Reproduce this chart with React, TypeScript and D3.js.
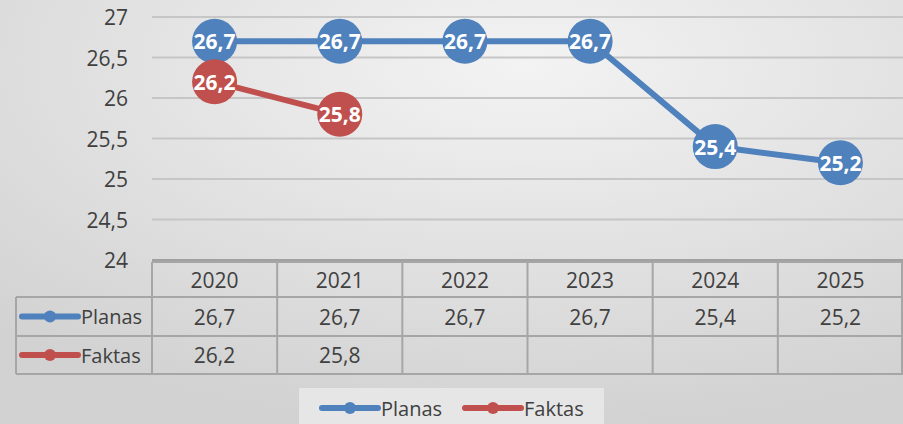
import React from "react";
import * as d3 from "d3";

const categories = ["2020", "2021", "2022", "2023", "2024", "2025"];
const planas: (number | null)[] = [26.7, 26.7, 26.7, 26.7, 25.4, 25.2];
const faktas: (number | null)[] = [26.2, 25.8, null, null, null, null];
const yTicks = [24, 24.5, 25, 25.5, 26, 26.5, 27];
const seriesNames = ["Planas", "Faktas"];
const seriesColors = ["#4F81BD", "#C0504D"];

const W = 903;
const H = 424;
const FONT = "'Open Sans', 'Liberation Sans', sans-serif";
const FS = 21;
const fmt = (v: number) => String(v).replace(".", ",");

export default function App() {
  const x = d3.scaleBand<string>().domain(categories).range([152, 903]);
  const y = d3.scaleLinear().domain([24, 27]).range([260, 17]);
  const series = [planas, faktas];

  const tableTop = y(24) + 2;
  const rowLines = [tableTop, 297, 336, 374];
  const tableLeft = 16;

  const lineGen = d3
    .line<number | null>()
    .defined((d) => d != null)
    .x((_, i) => (x(categories[i]) as number) + x.bandwidth() / 2)
    .y((d) => y(d as number));

  return (
    <svg
      width={W}
      height={H}
      style={{ position: "absolute", left: 0, top: 0, fontFamily: FONT }}
    >
      <defs>
        <radialGradient id="bg" cx="0.58" cy="0.15" r="0.85" gradientUnits="objectBoundingBox">
          <stop offset="0" stopColor="#f3f3f3" />
          <stop offset="1" stopColor="#d2d2d2" />
        </radialGradient>
      </defs>
      <rect x={0} y={0} width={W} height={H} fill="url(#bg)" />

      {/* gridlines */}
      {yTicks.slice(1).map((t) => (
        <line key={t} x1={152} x2={903} y1={y(t)} y2={y(t)} stroke="#c6c6c6" strokeWidth={2} />
      ))}
      {/* axis line */}
      <line x1={152} x2={903} y1={y(24)} y2={y(24)} stroke="#8c8c8c" strokeWidth={1.5} />

      {/* y tick labels */}
      {yTicks.map((t) => (
        <text key={t} x={128} y={y(t)} textAnchor="end" dominantBaseline="central" fontSize={FS} fill="#404040">
          {fmt(t)}
        </text>
      ))}

      {/* table */}
      <g stroke="#a6a6a6" strokeWidth={2}>
        <line x1={152} x2={903} y1={rowLines[0]} y2={rowLines[0]} />
        {rowLines.slice(1).map((r, i) => (
          <line key={i} x1={tableLeft} x2={903} y1={r} y2={r} />
        ))}
        <line x1={tableLeft} x2={tableLeft} y1={rowLines[1]} y2={rowLines[3]} />
        {categories.map((c) => (
          <line key={c} x1={x(c) as number} x2={x(c) as number} y1={rowLines[0]} y2={rowLines[3]} />
        ))}
        <line x1={902} x2={902} y1={rowLines[0]} y2={rowLines[3]} />
      </g>
      {categories.map((c) => (
        <text
          key={c}
          x={(x(c) as number) + x.bandwidth() / 2}
          y={(rowLines[0] + rowLines[1]) / 2}
          textAnchor="middle"
          dominantBaseline="central"
          fontSize={FS}
          fill="#404040"
        >
          {c}
        </text>
      ))}
      {series.map((s, si) => {
        const cy = (rowLines[si + 1] + rowLines[si + 2]) / 2;
        return (
          <g key={si}>
            <line x1={22} x2={78} y1={cy} y2={cy} stroke={seriesColors[si]} strokeWidth={6} strokeLinecap="round" />
            <circle cx={50} cy={cy} r={6} fill={seriesColors[si]} />
            <text x={81} y={cy} dominantBaseline="central" fontSize={20} fill="#404040">
              {seriesNames[si]}
            </text>
            {s.map((v, i) =>
              v == null ? null : (
                <text
                  key={i}
                  x={(x(categories[i]) as number) + x.bandwidth() / 2}
                  y={cy}
                  textAnchor="middle"
                  dominantBaseline="central"
                  fontSize={FS}
                  fill="#404040"
                >
                  {fmt(v)}
                </text>
              )
            )}
          </g>
        );
      })}

      {/* lines and markers */}
      {series.map((s, si) => (
        <path key={si} d={lineGen(s) || ""} fill="none" stroke={seriesColors[si]} strokeWidth={6} />
      ))}
      {series.map((s, si) =>
        s.map((v, i) => {
          if (v == null) return null;
          const cx = (x(categories[i]) as number) + x.bandwidth() / 2;
          return (
            <g key={`${si}-${i}`}>
              <circle cx={cx} cy={y(v)} r={22.5} fill={seriesColors[si]} />
              <text
                x={cx}
                y={y(v)}
                textAnchor="middle"
                dominantBaseline="central"
                fontSize={FS}
                fontWeight="bold"
                fill="#ffffff"
              >
                {fmt(v)}
              </text>
            </g>
          );
        })
      )}

      {/* legend */}
      <rect x={299} y={388} width={305} height={40} fill="#e6e6e6" />
      {seriesNames.map((n, i) => {
        const lx = i === 0 ? 322 : 465;
        return (
          <g key={n}>
            <line x1={lx} x2={lx + 56} y1={408} y2={408} stroke={seriesColors[i]} strokeWidth={6} strokeLinecap="round" />
            <circle cx={lx + 28} cy={408} r={6} fill={seriesColors[i]} />
            <text x={lx + 59} y={408} dominantBaseline="central" fontSize={20} fill="#404040">
              {n}
            </text>
          </g>
        );
      })}
    </svg>
  );
}
